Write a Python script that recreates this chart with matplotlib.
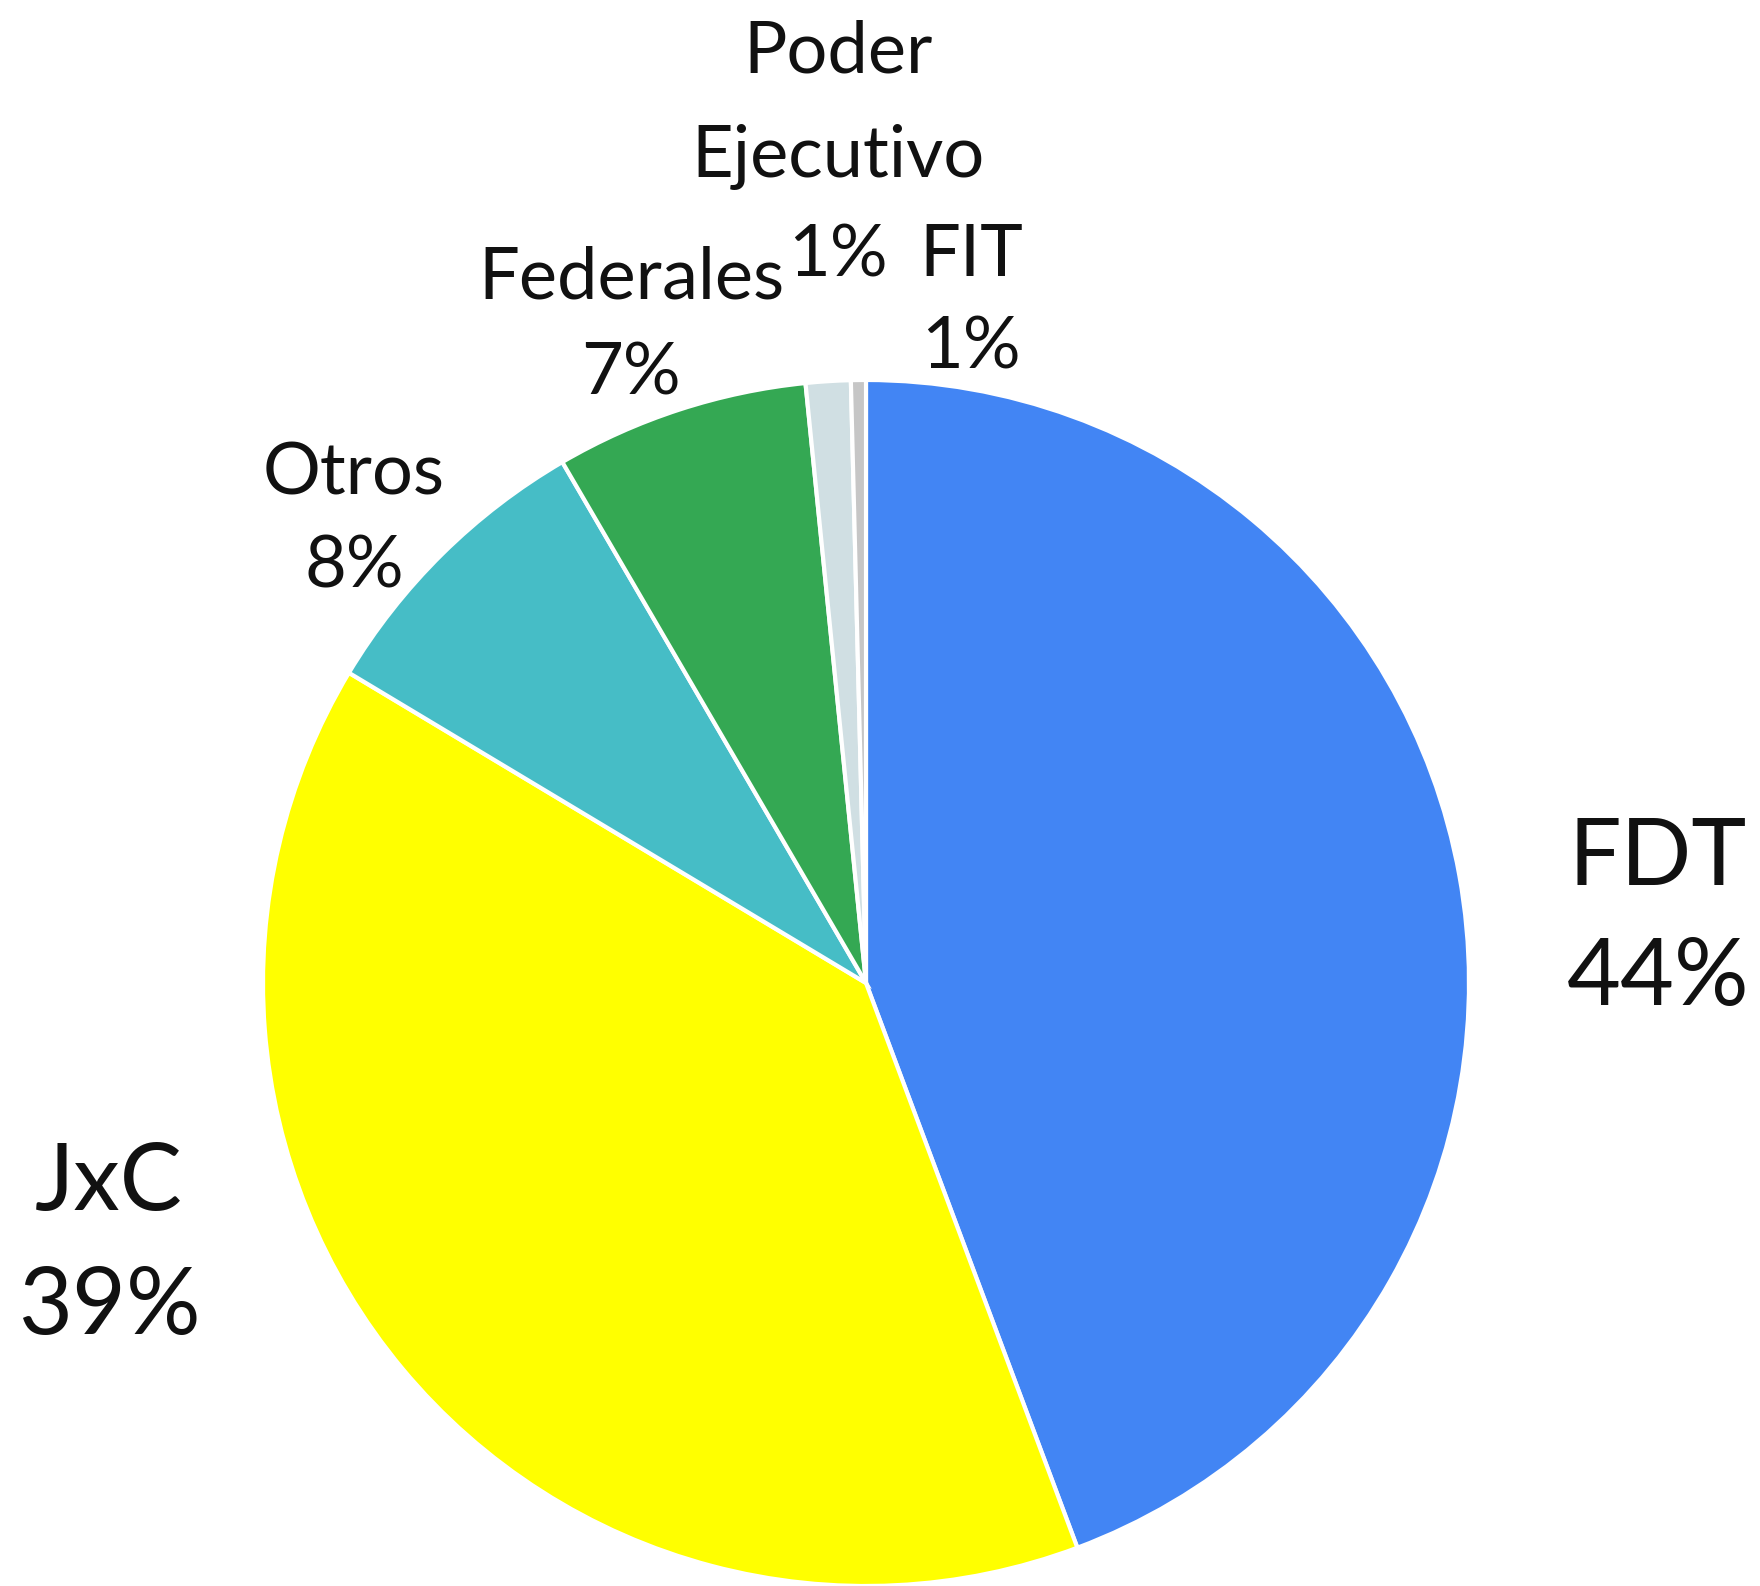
import matplotlib.pyplot as plt

# shares by bloc, clockwise from 12 o'clock
blocs = ['FDT', 'JxC', 'Otros', 'Federales', 'Poder\nEjecutivo', 'FIT']
shares = [44.3, 39.3, 8.0, 6.8, 1.2, 0.4]
pct_text = ['44%', '39%', '8%', '7%', '1%', '1%']
colors = ['#4285F4', '#FFFF00', '#46BDC6', '#34A853', '#D0DFE3', '#C6C6C6']

# label placement in pixels: x centre, y of name, y of percentage, font size
label_pos = [(1658, 859, 979, 67), (109, 1184, 1308, 67),
             (354, 474, 567, 52), (631, 278, 374, 52),
             (838, 105, 256, 52), (971, 256, 348, 52)]

W, H = 1760, 1586
plt.rcParams['font.family'] = ['Lato', 'DejaVu Sans']
fig = plt.figure(figsize=(W / 100, H / 100), dpi=100)

# pie centre ~ (866, 983) px, radius ~603 px
cx, cy, r = 866, 983, 603
ax = fig.add_axes([(cx - r) / W, (H - cy - r) / H, 2 * r / W, 2 * r / H])
ax.pie(shares, colors=colors, startangle=90, counterclock=False,
       wedgeprops=dict(edgecolor='white', linewidth=3))
ax.set_xlim(-1, 1)
ax.set_ylim(-1, 1)
ax.set_aspect('equal')
ax.axis('off')

for name, pct, (x, yn, yp, fs) in zip(blocs, pct_text, label_pos):
    fig.text(x / W, 1 - yn / H, name, ha='center', va='center',
             fontsize=fs, linespacing=1.75, color='#111111')
    fig.text(x / W, 1 - yp / H, pct, ha='center', va='center',
             fontsize=fs, color='#111111')

fig.savefig('out.png', dpi=100)
